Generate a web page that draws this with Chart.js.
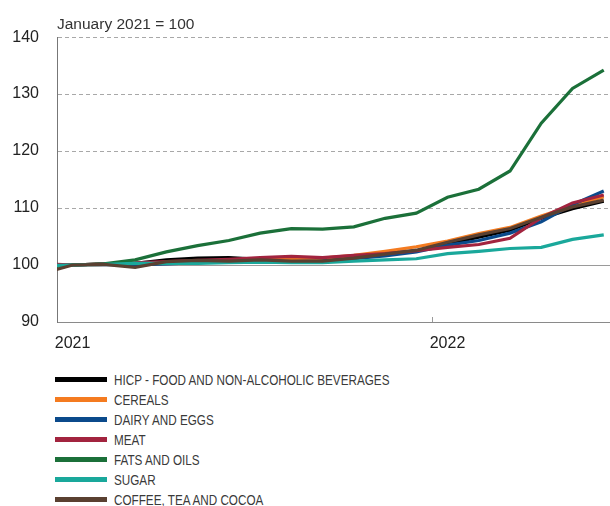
<!DOCTYPE html>
<html lang="en">
<head>
  <meta charset="UTF-8">
  <title>Food price indices</title>
  <script src="https://cdn.jsdelivr.net/npm/chart.js"></script>
  <style>
    body { margin: 0; background: #fff; width: 610px; height: 506px; overflow: hidden; font-family: "Liberation Sans", Arial, sans-serif; }
    .grafico { position: relative; width: 610px; height: 360px; }
    .legenda { position: absolute; left: 55px; top: 369px; }
    .item { height: 20px; display: flex; align-items: center; }
    .traco { width: 52px; height: 5px; margin-right: 7px; }
    .nome { font-size: 15px; color: #3a3a3a; display: inline-block; transform: scaleX(0.78); transform-origin: left center; white-space: nowrap; }
  </style>
</head>
<body>

<div class="grafico">
  <canvas id="linhas"></canvas>
</div>
<div class="legenda" id="legenda"></div>

<script>
// months, Dec 2020 to Jun 2022 (Jan 2021 = 100)
var meses = ['2020-12','2021-01','2021-02','2021-03','2021-04','2021-05','2021-06','2021-07','2021-08','2021-09','2021-10','2021-11','2021-12',
             '2022-01','2022-02','2022-03','2022-04','2022-05','2022-06'];

var hicp    = [99.8, 100, 100.2, 100.3, 100.9, 101.2, 101.3, 101.0, 100.9, 101.1, 101.4, 101.9, 102.5, 103.7, 104.9, 106.1, 108.2, 109.9, 111.2];
var cereais = [99.8, 100, 100.1, 100.2, 100.3, 100.5, 100.7, 100.9, 101.0, 101.2, 101.7, 102.4, 103.2, 104.2, 105.5, 106.6, 108.6, 110.4, 112.0];
var laticin = [99.9, 100, 100.1, 100.0, 100.2, 100.4, 100.6, 100.7, 100.6, 100.7, 101.1, 101.6, 102.3, 103.5, 104.3, 105.6, 107.6, 110.6, 113.0];
var carne   = [100.2, 100, 100.2, 100.4, 100.6, 100.8, 101.0, 101.3, 101.5, 101.3, 101.7, 102.0, 102.5, 103.1, 103.6, 104.7, 108.3, 110.9, 112.3];
var oleos   = [99.6, 100, 100.2, 100.9, 102.3, 103.4, 104.3, 105.6, 106.4, 106.3, 106.7, 108.2, 109.1, 111.9, 113.3, 116.5, 124.9, 131.0, 134.2];
var acucar  = [99.9, 100, 100.1, 100.3, 100.3, 100.3, 100.4, 100.5, 100.4, 100.4, 100.7, 100.9, 101.1, 102.0, 102.4, 102.9, 103.1, 104.5, 105.3];
var cafe    = [98.5, 100, 100.1, 99.6, 100.6, 100.8, 100.7, 100.9, 100.7, 100.7, 101.2, 101.9, 102.6, 104.0, 105.3, 106.4, 108.4, 110.2, 111.4];

var nomes = ['HICP - FOOD AND NON-ALCOHOLIC BEVERAGES', 'CEREALS', 'DAIRY AND EGGS', 'MEAT', 'FATS AND OILS', 'SUGAR', 'COFFEE, TEA AND COCOA'];
var series = [hicp, cereais, laticin, carne, oleos, acucar, cafe];
var cores = ['#000000', '#f47b20', '#0b4a8b', '#a2243f', '#1b7039', '#1aa89b', '#5a4031'];

var anos = ['2021', '2022'];
var inicioAno = [0, 12];   // month offset of each January from Jan 2021
var base = 100;

// x in months since start of Jan 2021, each point in the middle of its month
function pontos(valores){
  var p = [];
  for(var i = 0; i < valores.length; i++){
    p.push({ x: i - 0.5, y: valores[i] });
  }
  return p;
}

var conjuntos = [];
for(var i = 0; i < series.length; i++){
  conjuntos.push({
    label: nomes[i],
    data: pontos(series[i]),
    borderColor: cores[i],
    backgroundColor: cores[i],
    borderWidth: 3.2,
    pointRadius: 0,
    tension: 0,
    clip: 0,
    order: series.length - i
  });
}

// solid base line at 100 and small year ticks on the x axis
var linhaBase = {
  id: 'linhaBase',
  beforeDatasetsDraw: function(chart){
    var ctx = chart.ctx, area = chart.chartArea;
    var y = Math.round(chart.scales.y.getPixelForValue(base)) + 0.5;
    ctx.save();
    ctx.strokeStyle = '#9a9a9a';
    ctx.lineWidth = 1;
    ctx.beginPath();
    ctx.moveTo(area.left, y);
    ctx.lineTo(area.right, y);
    for(var k = 1; k < inicioAno.length; k++){
      var x = Math.round(chart.scales.x.getPixelForValue(inicioAno[k])) + 0.5;
      ctx.moveTo(x, area.bottom);
      ctx.lineTo(x, area.bottom - 5);
    }
    ctx.stroke();
    ctx.restore();
  }
};

var ctx = document.getElementById('linhas').getContext('2d');
var myChart = new Chart(ctx, {
  type: 'line',
  data: { datasets: conjuntos },
  options: {
    responsive: true,
    maintainAspectRatio: false,
    animation: false,
    layout: { padding: 0 },
    plugins: {
      legend: { display: false },
      tooltip: { enabled: false },
      title: {
        display: true,
        text: 'January 2021 = 100',
        align: 'start',
        fullSize: false,
        color: '#333',
        font: { family: 'Liberation Sans, Arial', size: 15.5, weight: 'normal' },
        padding: { top: 15, bottom: 3.5 }
      }
    },
    scales: {
      x: {
        type: 'linear',
        min: 0,
        max: 17.7,
        grid: { display: false },
        border: { display: true, color: '#8a8a8a' },
        afterBuildTicks: function(scale){
          scale.ticks = inicioAno.map(function(v){ return { value: v }; });
        },
        afterFit: function(scale){ scale.height = 38; },
        ticks: {
          autoSkip: false,
          maxRotation: 0,
          labelOffset: 15.6,
          padding: 4,
          color: '#222',
          font: { family: 'Liberation Sans, Arial', size: 16 },
          callback: function(v){ return anos[inicioAno.indexOf(v)]; }
        }
      },
      y: {
        min: 90,
        max: 140,
        afterFit: function(scale){ scale.width = 57; },
        ticks: {
          stepSize: 10,
          padding: 18,
          color: '#222',
          font: { family: 'Liberation Sans, Arial', size: 16 }
        },
        grid: { color: '#a8a8a8', lineWidth: 1, drawTicks: false },
        border: { display: true, color: '#777', dash: [4, 3] }
      }
    }
  },
  plugins: [linhaBase]
});

// legend as a vertical list below the chart
var legenda = document.getElementById('legenda');
for(var j = 0; j < myChart.data.datasets.length; j++){
  var ds = myChart.data.datasets[j];
  var item = document.createElement('div');
  item.className = 'item';
  item.innerHTML = '<span class="traco" style="background:' + ds.borderColor + '"></span><span class="nome">' + ds.label + '</span>';
  legenda.appendChild(item);
}
</script>
</body>
</html>
